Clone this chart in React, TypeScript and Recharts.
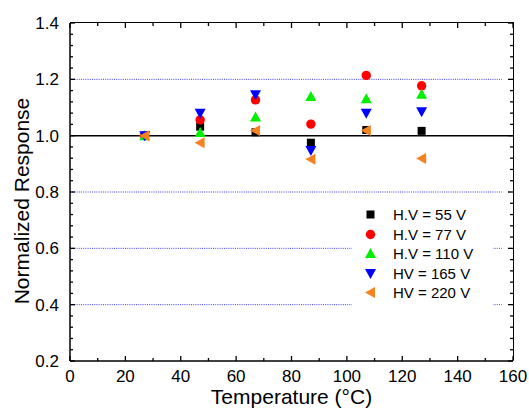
import {
  Legend,
  ReferenceLine,
  Scatter,
  ScatterChart,
  XAxis,
  YAxis,
} from "recharts";

const temps = [27, 47, 67, 87, 107, 127];
const hv55 = [1.0, 1.032, 1.012, 0.975, 1.02, 1.017];
const hv77 = [1.0, 1.056, 1.127, 1.041, 1.214, 1.177];
const hv110 = [1.0, 1.011, 1.066, 1.139, 1.131, 1.147];
const hv165 = [1.0, 1.08, 1.145, 0.947, 1.08, 1.085];
const hv220 = [1.0, 0.975, 1.018, 0.916, 1.018, 0.919];

const xTicks = [0, 20, 40, 60, 80, 100, 120, 140, 160];
const xMinor = [10, 30, 50, 70, 90, 110, 130, 150];
const yTicks = [0.2, 0.4, 0.6, 0.8, 1.0, 1.2, 1.4];
const yMinor = [
  0.24, 0.28, 0.32, 0.36, 0.44, 0.48, 0.52, 0.56, 0.64, 0.68, 0.72, 0.76,
  0.84, 0.88, 0.92, 0.96, 1.04, 1.08, 1.12, 1.16, 1.24, 1.28, 1.32, 1.36,
];
const dottedLines = [0.4, 0.6, 0.8, 1.2];

const FONT = "'Liberation Sans', Arial, sans-serif";

// chart layout
const W = 529;
const H = 409;
const MARGIN = { top: 23, right: 16, bottom: 0, left: 0 };
const Y_AXIS_W = 70;
const X_AXIS_H = 48;
const PLOT_X = MARGIN.left + Y_AXIS_W;
const PLOT_Y = MARGIN.top;
const PLOT_W = W - MARGIN.left - MARGIN.right - Y_AXIS_W;
const PLOT_H = H - MARGIN.top - MARGIN.bottom - X_AXIS_H;
const X_TICK_MARGIN = 9;
const Y_TICK_MARGIN = 11;
const MAJ = 5;
const MIN = 3;

type ShapeProps = { cx?: number; cy?: number; fill?: string };

const Square = ({ cx = 0, cy = 0, fill }: ShapeProps) => (
  <rect x={cx - 4} y={cy - 4} width={8} height={8} fill={fill} />
);
const Dot = ({ cx = 0, cy = 0, fill }: ShapeProps) => (
  <circle cx={cx} cy={cy} r={4.7} fill={fill} />
);
const TriUp = ({ cx = 0, cy = 0, fill }: ShapeProps) => (
  <polygon
    points={`${cx - 5.5},${cy + 4.5} ${cx + 5.5},${cy + 4.5} ${cx},${cy - 5.5}`}
    fill={fill}
  />
);
const TriDown = ({ cx = 0, cy = 0, fill }: ShapeProps) => (
  <polygon
    points={`${cx - 5.5},${cy - 4.5} ${cx + 5.5},${cy - 4.5} ${cx},${cy + 5.5}`}
    fill={fill}
  />
);
const TriLeft = ({ cx = 0, cy = 0, fill }: ShapeProps) => (
  <polygon
    points={`${cx + 4.5},${cy - 5.5} ${cx + 4.5},${cy + 5.5} ${cx - 5.5},${cy}`}
    fill={fill}
  />
);

const series = [
  { name: "H.V = 55 V", values: hv55, color: "#000000", Shape: Square },
  { name: "H.V = 77 V", values: hv77, color: "#ff0000", Shape: Dot },
  { name: "H.V = 110 V", values: hv110, color: "#00f000", Shape: TriUp },
  { name: "HV = 165 V", values: hv165, color: "#0000ff", Shape: TriDown },
  { name: "HV = 220 V", values: hv220, color: "#f5821f", Shape: TriLeft },
];

const toPoints = (values: number[]) =>
  temps.map((t, i) => ({ x: t, y: values[i] }));

function LegendBox() {
  return (
    <div
      style={{
        background: "#fff",
        fontFamily: FONT,
        fontSize: 15,
        padding: "7px 0 0 0",
        height: "100%",
        boxSizing: "border-box",
      }}
    >
      {series.map(({ name, color, Shape }) => (
        <div
          key={name}
          style={{ display: "flex", alignItems: "center", height: 19.5 }}
        >
          <svg width={36} height={19} style={{ flex: "none" }}>
            <Shape cx={18.5} cy={9.5} fill={color} />
          </svg>
          <span style={{ marginLeft: 5 }}>{name}</span>
        </div>
      ))}
    </div>
  );
}

const YLabel = (props: any) => {
  const vb = props.viewBox || { x: 0, y: 0, width: 0, height: 0 };
  const x = vb.x + 21;
  const y = vb.y + vb.height / 2 + 9;
  return (
    <text
      x={x}
      y={y}
      transform={`rotate(-90 ${x} ${y})`}
      textAnchor="middle"
      dominantBaseline="central"
      fontSize={21}
      fontFamily={FONT}
      fill="#000"
    >
      Normalized Response
    </text>
  );
};

const tickLine = { stroke: "#000", strokeWidth: 1.3 };
const frame = { stroke: "#000", strokeWidth: 1.5 };

// x ticks: inward marks at bottom and top, label on majors
const XTick = (props: any) => {
  const { x, y, payload } = props;
  const cx = payload?.coordinate ?? x;
  const value = payload?.value;
  const bottom = y - X_TICK_MARGIN;
  const top = bottom - PLOT_H;
  const major = xTicks.includes(value);
  const len = major ? MAJ : MIN;
  return (
    <g>
      <line x1={cx} x2={cx} y1={bottom} y2={bottom - len} {...tickLine} />
      <line x1={cx} x2={cx} y1={top} y2={top + len} {...tickLine} />
      {major && (
        <text
          x={cx}
          y={y}
          dy="0.71em"
          textAnchor="middle"
          fontSize={17}
          fontFamily={FONT}
          fill="#000"
        >
          {value}
        </text>
      )}
    </g>
  );
};

// y ticks: inward marks left and right, label on majors
const YTick = (props: any) => {
  const { x, y, payload } = props;
  const cy = payload?.coordinate ?? y;
  const value = payload?.value;
  const left = x + Y_TICK_MARGIN;
  const right = left + PLOT_W;
  const major = yTicks.includes(value);
  const len = major ? MAJ : MIN;
  return (
    <g>
      <line x1={left} x2={left + len} y1={cy} y2={cy} {...tickLine} />
      <line x1={right} x2={right - len} y1={cy} y2={cy} {...tickLine} />
      {major && (
        <text
          x={x}
          y={cy}
          dy="0.355em"
          textAnchor="end"
          fontSize={17}
          fontFamily={FONT}
          fill="#000"
        >
          {Number(value).toFixed(1)}
        </text>
      )}
    </g>
  );
};

export default function App() {
  return (
    <div
      style={{
        position: "absolute",
        left: 0,
        top: 0,
        width: W,
        height: H,
        background: "#fff",
      }}
    >
      <ScatterChart width={W} height={H} margin={MARGIN}>
        <XAxis
          type="number"
          dataKey="x"
          domain={[0, 160]}
          ticks={[...xTicks, ...xMinor]}
          interval={0}
          allowDataOverflow
          height={X_AXIS_H}
          tickLine={false}
          tickSize={0}
          tickMargin={X_TICK_MARGIN}
          axisLine={frame}
          tick={<XTick />}
          label={{
            value: "Temperature (°C)",
            position: "insideBottom",
            offset: 5,
            fontSize: 21,
            fill: "#000",
            fontFamily: FONT,
          }}
        />
        <YAxis
          type="number"
          dataKey="y"
          domain={[0.2, 1.4]}
          ticks={[...yTicks, ...yMinor]}
          interval={0}
          allowDataOverflow
          width={Y_AXIS_W}
          tickLine={false}
          tickSize={0}
          tickMargin={Y_TICK_MARGIN}
          axisLine={frame}
          tick={<YTick />}
          label={<YLabel />}
        />
        {dottedLines.map((v) => (
          <ReferenceLine
            key={`g${v}`}
            segment={[
              { x: 0, y: v },
              { x: 156, y: v },
            ]}
            stroke="#3a3aff"
            strokeWidth={1}
            strokeDasharray="1 1.2"
          />
        ))}
        <ReferenceLine y={1.0} stroke="#000" strokeWidth={1.5} />
        {series.map(({ name, values, color, Shape }) => (
          <Scatter
            key={name}
            name={name}
            data={toPoints(values)}
            fill={color}
            shape={<Shape />}
            isAnimationActive={false}
          />
        ))}
        <Legend
          layout="vertical"
          align="center"
          verticalAlign="middle"
          content={() => <LegendBox />}
          wrapperStyle={{
            left: 352,
            top: 198,
            width: 141,
            height: 108,
          }}
        />
      </ScatterChart>
      {/* plot frame: top and right edges */}
      <div
        style={{
          position: "absolute",
          left: PLOT_X,
          top: PLOT_Y - 0.75,
          width: PLOT_W + 0.75,
          height: PLOT_H,
          borderTop: "1.5px solid #000",
          borderRight: "1.5px solid #000",
          boxSizing: "border-box",
          pointerEvents: "none",
        }}
      />
    </div>
  );
}
